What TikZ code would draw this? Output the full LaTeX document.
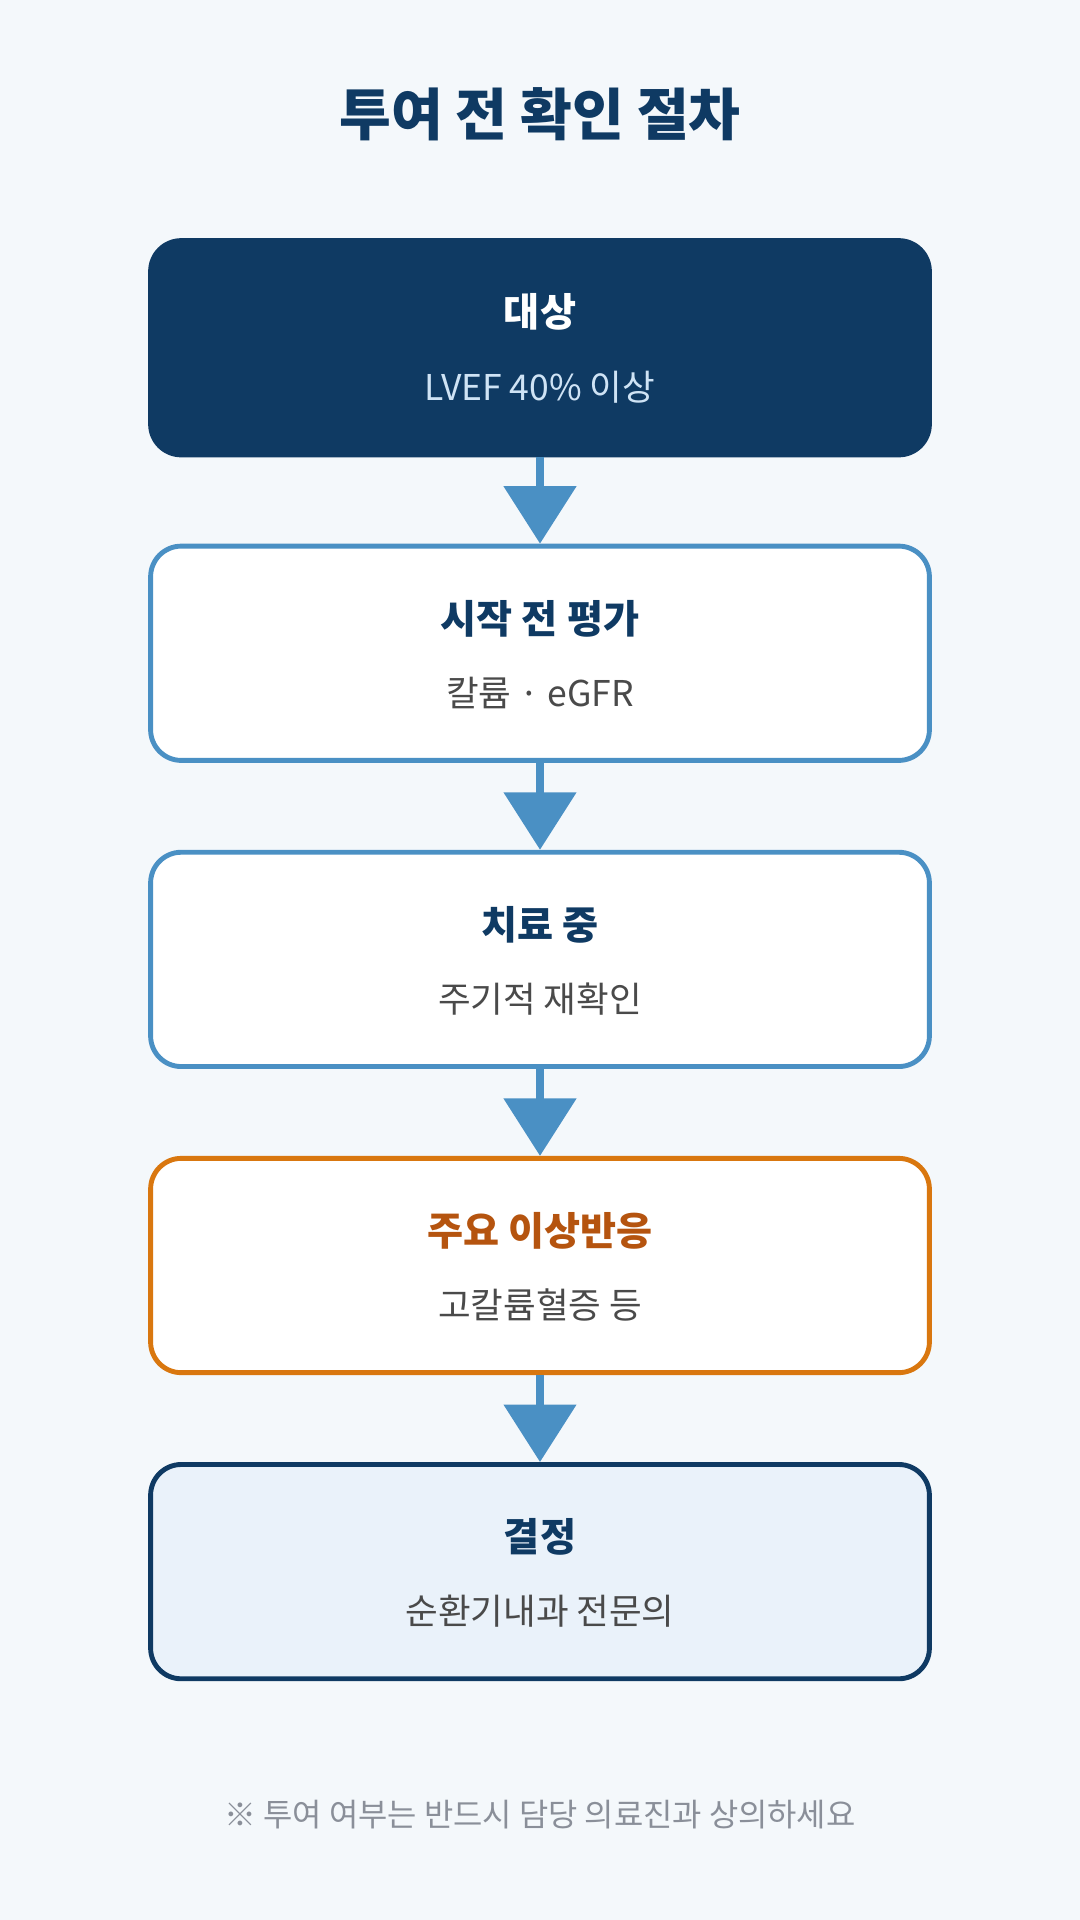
\documentclass[tikz,border=0pt]{standalone}
\usepackage{fontspec}
\setmainfont{Noto Sans CJK KR}
\usetikzlibrary{arrows.meta}
\definecolor{navy}{HTML}{0F3A63}
\definecolor{blu}{HTML}{4A90C4}
\definecolor{org}{HTML}{D9770F}
\definecolor{orgt}{HTML}{B5540F}
\definecolor{bg}{HTML}{F4F8FB}
\definecolor{sub}{HTML}{4A4A4A}
\definecolor{lite}{HTML}{EAF2FA}
\definecolor{note}{HTML}{8A8F99}
\definecolor{pale}{HTML}{CFE3F5}
\begin{document}
\begin{tikzpicture}[x=1pt,y=-1pt,
 box/.style={draw=blu,line width=4pt,fill=white,rounded corners=25pt,minimum width=636pt,minimum height=175pt,inner sep=0pt},
 ttl/.style={font=\fontsize{32}{38}\selectfont\bfseries,text=navy},
 sbt/.style={font=\fontsize{29}{35}\selectfont,text=sub},
 arr/.style={draw=blu,line width=7pt,-{Triangle[length=47pt,width=58pt]}}]
\fill[bg] (0,0) rectangle (882,1568);
\useasboundingbox (0,0) rectangle (882,1568);
\node[font=\fontsize{46}{54}\selectfont\bfseries,text=navy] (title) at (441,93) {투여 전 확인 절차};
\node[box,draw=navy,fill=navy] (b1) at (441,284) {};
\node[box] (b2) at (441,533.5) {};
\node[box] (b3) at (441,783.5) {};
\node[box,draw=org] (b4) at (441,1033.5) {};
\node[box,draw=navy,fill=lite] (b5) at (441,1283.5) {};
\node[ttl,text=white] (t1) at (441,255) {대상};
\node[sbt,text=pale] (s1) at (441,316) {LVEF 40\% 이상};
\node[ttl] (t2) at (441,505) {시작 전 평가};
\node[sbt] (s2) at (441,566) {칼륨 · eGFR};
\node[ttl] (t3) at (441,755) {치료 중};
\node[sbt] (s3) at (441,816) {주기적 재확인};
\node[ttl,text=orgt] (t4) at (441,1005) {주요 이상반응};
\node[sbt] (s4) at (441,1066) {고칼륨혈증 등};
\node[ttl] (t5) at (441,1255) {결정};
\node[sbt] (s5) at (441,1316) {순환기내과 전문의};
\draw[arr] (b1.south) -- (b2.north);
\draw[arr] (b2.south) -- (b3.north);
\draw[arr] (b3.south) -- (b4.north);
\draw[arr] (b4.south) -- (b5.north);
\node[font=\fontsize{26}{32}\selectfont,text=note] (n) at (441,1482) {※ 투여 여부는 반드시 담당 의료진과 상의하세요};
\end{tikzpicture}
\end{document}
